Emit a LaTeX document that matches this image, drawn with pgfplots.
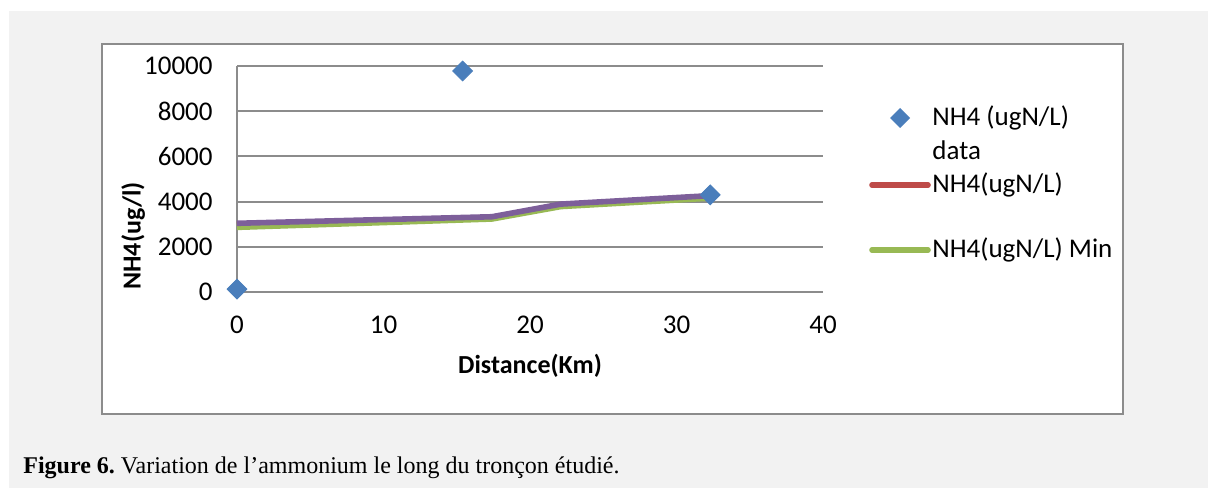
\documentclass[border=0pt]{standalone}
\usepackage{pgfplots}
\pgfplotsset{compat=1.18}
\usepackage{fontspec}
\setmainfont{Carlito}
\newfontfamily\capfont{Liberation Serif}
\definecolor{bgray}{HTML}{F2F2F2}
\definecolor{framegray}{HTML}{8C8C8C}
\definecolor{gridgray}{HTML}{8C8C8C}
\definecolor{sblue}{HTML}{4A7EBB}
\definecolor{sred}{HTML}{BE4B48}
\definecolor{sgreen}{HTML}{98B954}
\definecolor{spurple}{HTML}{7D5F9A}
\begin{document}
\begin{tikzpicture}
% background and chart frame, coordinates in reference pixels
\begin{scope}[x=0.5bp,y=-0.5bp]
\fill[white] (0,0) rectangle (1208,488);
\fill[bgray] (9,11) rectangle (1208,488);
\filldraw[fill=white,draw=framegray,line width=1.3bp] (102,44) rectangle (1123,414);
\end{scope}
\begin{axis}[
  at={(118.5bp,-146bp)}, anchor=south west,
  scale only axis, width=293bp, height=113bp,
  xmin=0, xmax=40, ymin=0, ymax=10000,
  xtick={0,10,...,40}, ytick={0,2000,...,10000},
  axis lines*=left,
  axis line style={gridgray, line width=1bp},
  ymajorgrids, grid style={gridgray, line width=1bp},
  major tick length=0pt,
  clip=false,
  scaled y ticks=false,
  /pgf/number format/assume math mode=true,
  /pgf/number format/set thousands separator={},
  tick label style={font=\fontsize{13.5bp}{15bp}\selectfont},
  xticklabel style={yshift=-8.7bp},
  yticklabel style={xshift=-8.7bp},
  xlabel={Distance(Km)}, ylabel={NH4(ug/l)},
  label style={font=\bfseries\fontsize{13bp}{15bp}\selectfont},
  xlabel style={at={(rel axis cs:0.5,-0.327)}, anchor=center},
  ylabel style={at={(rel axis cs:-0.177,0.248)}, anchor=center},
]
\addplot[sred, line width=2.8bp, line join=round] coordinates {(0,3000) (17.4,3300) (22.1,3860) (32.2,4230)};
\addplot[sgreen, line width=2.8bp, line join=round] coordinates {(0,2860) (17.4,3230) (22.1,3780) (32.2,4150)};
\addplot[spurple, line width=2.8bp, line join=round] coordinates {(0,3040) (17.4,3330) (22.1,3890) (32.2,4260)};
\addplot[only marks, mark=square*, mark size=3.5bp, mark options={rotate=45, fill=sblue, draw=sblue}]
  coordinates {(0,130) (15.4,9780) (32.3,4300)};
\end{axis}
% legend and caption
\begin{scope}[x=0.5bp,y=-0.5bp]
\fill[sblue] (900,108) -- (910,118) -- (900,128) -- (890,118) -- cycle;
\begin{scope}[every node/.style={anchor=west, inner sep=0pt, font=\fontsize{13.5bp}{15bp}\selectfont}]
\node at (932,118) {NH4 (ugN/L)};
\node at (932,150) {data};
\node at (932,185) {NH4(ugN/L)};
\node at (932,250) {NH4(ugN/L) Min};
\end{scope}
\draw[sred, line width=2.8bp, line cap=round] (872,185) -- (928,185);
\draw[sgreen, line width=2.8bp, line cap=round] (872,250) -- (928,250);
\node[anchor=base west, inner sep=0pt, font=\capfont\fontsize{12bp}{14bp}\selectfont] at (23,473)
  {\textbf{Figure 6.}\ Variation de l’ammonium le long du tronçon étudié.};
\end{scope}
\end{tikzpicture}
\end{document}
